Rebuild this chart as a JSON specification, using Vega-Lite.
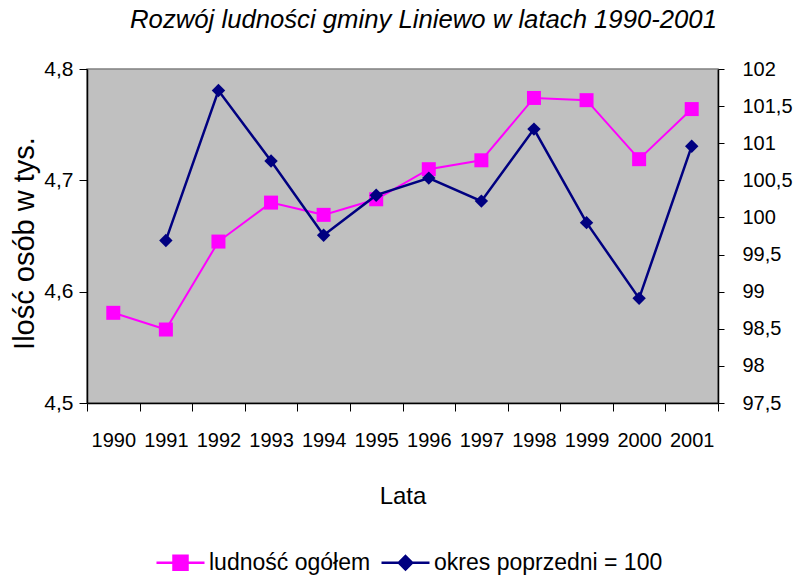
{
  "$schema": "https://vega.github.io/schema/vega-lite/v6.json",
  "width": 631,
  "height": 334,
  "autosize": {"type": "none"},
  "padding": {"left": 87, "top": 69, "right": 78, "bottom": 174},
  "background": "white",
  "config": {
    "font": "Liberation Sans",
    "view": {"fill": "#C0C0C0", "stroke": "#808080", "strokeWidth": 1.5}
  },
  "title": {
    "text": "Rozwój ludności gminy Liniewo w latach 1990-2001",
    "fontSize": 25.7,
    "fontStyle": "italic",
    "fontWeight": "normal",
    "color": "black",
    "anchor": "middle",
    "frame": "group",
    "baseline": "alphabetic",
    "offset": 4,
    "dx": 21
  },
  "data": {
    "values": [
      {"year": "1990", "s": "ludność ogółem", "v": 4.581},
      {"year": "1991", "s": "ludność ogółem", "v": 4.566},
      {"year": "1992", "s": "ludność ogółem", "v": 4.645},
      {"year": "1993", "s": "ludność ogółem", "v": 4.680},
      {"year": "1994", "s": "ludność ogółem", "v": 4.669},
      {"year": "1995", "s": "ludność ogółem", "v": 4.683},
      {"year": "1996", "s": "ludność ogółem", "v": 4.710},
      {"year": "1997", "s": "ludność ogółem", "v": 4.718},
      {"year": "1998", "s": "ludność ogółem", "v": 4.774},
      {"year": "1999", "s": "ludność ogółem", "v": 4.772},
      {"year": "2000", "s": "ludność ogółem", "v": 4.719},
      {"year": "2001", "s": "ludność ogółem", "v": 4.764},
      {"year": "1991", "s": "okres poprzedni = 100", "v": 99.69},
      {"year": "1992", "s": "okres poprzedni = 100", "v": 101.71},
      {"year": "1993", "s": "okres poprzedni = 100", "v": 100.76},
      {"year": "1994", "s": "okres poprzedni = 100", "v": 99.76},
      {"year": "1995", "s": "okres poprzedni = 100", "v": 100.30},
      {"year": "1996", "s": "okres poprzedni = 100", "v": 100.53},
      {"year": "1997", "s": "okres poprzedni = 100", "v": 100.22},
      {"year": "1998", "s": "okres poprzedni = 100", "v": 101.19},
      {"year": "1999", "s": "okres poprzedni = 100", "v": 99.93},
      {"year": "2000", "s": "okres poprzedni = 100", "v": 98.91},
      {"year": "2001", "s": "okres poprzedni = 100", "v": 100.96}
    ]
  },
  "layer": [
    {
      "transform": [{"filter": "datum.s === 'ludność ogółem'"}],
      "encoding": {
        "x": {
          "field": "year", "type": "ordinal",
          "scale": {"type": "band", "paddingInner": 0, "paddingOuter": 0},
          "axis": {
            "title": "Lata", "titleFontSize": 24, "titleFontWeight": "normal", "titleColor": "black",
            "titleBaseline": "alphabetic", "titleY": 100,
            "labelAngle": 0, "labelFontSize": 20, "labelColor": "black", "labelPadding": 19,
            "tickBand": "extent", "tickSize": 8, "tickColor": "black", "domainColor": "black",
            "domainWidth": 1.5, "grid": false
          }
        },
        "y": {
          "field": "v", "type": "quantitative",
          "scale": {"domain": [4.5, 4.8], "zero": false},
          "axis": {
            "title": "Ilość osób w tys.", "titleFontSize": 29, "titleFontWeight": "normal", "titleColor": "black",
            "titleBaseline": "alphabetic", "titleAngle": -90, "titleX": -54, "titleY": 174, "titleAlign": "center",
            "values": [4.5, 4.6, 4.7, 4.8], "format": "~g",
            "labelExpr": "replace(datum.label, '.', ',')",
            "labelFontSize": 21, "labelColor": "black", "labelPadding": 6,
            "tickSize": 8, "tickColor": "black", "domainColor": "black", "domainWidth": 1.5, "grid": false
          }
        }
      },
      "layer": [
        {"mark": {"type": "line", "color": "#FF00FF", "strokeWidth": 2}},
        {"mark": {"type": "point", "shape": "square", "filled": true, "size": 196, "opacity": 1, "color": "#FF00FF"}}
      ]
    },
    {
      "transform": [{"filter": "datum.s === 'okres poprzedni = 100'"}],
      "encoding": {
        "x": {"field": "year", "type": "ordinal"},
        "y": {
          "field": "v", "type": "quantitative",
          "scale": {"domain": [97.5, 102], "zero": false},
          "axis": {
            "orient": "right", "title": null,
            "values": [97.5, 98, 98.5, 99, 99.5, 100, 100.5, 101, 101.5, 102], "format": "~g",
            "labelExpr": "replace(datum.label, '.', ',')",
            "labelFontSize": 20, "labelColor": "black", "labelPadding": 18,
            "tickSize": 6, "tickColor": "black", "domainColor": "black", "domainWidth": 1.5, "grid": false
          }
        }
      },
      "layer": [
        {"mark": {"type": "line", "color": "#000080", "strokeWidth": 2.5}},
        {"mark": {"type": "point", "shape": "diamond", "filled": true, "size": 180, "opacity": 1, "color": "#000080"}}
      ]
    },
    {
      "data": {"values": [{"s": "ludność ogółem"}, {"s": "okres poprzedni = 100"}]},
      "mark": {"type": "point", "filled": true, "opacity": 1, "strokeWidth": 2.5, "clip": true},
      "encoding": {
        "x": {"value": -1000},
        "y": {"value": -1000},
        "color": {
          "field": "s", "type": "nominal",
          "scale": {"domain": ["ludność ogółem", "okres poprzedni = 100"], "range": ["#FF00FF", "#000080"]},
          "legend": {
            "title": null, "orient": "none", "direction": "horizontal", "legendX": 82, "legendY": 482,
            "padding": 0, "symbolSize": 196, "symbolStrokeWidth": 2.5, "labelOffset": 17,
            "labelFontSize": 23, "labelColor": "black", "labelLimit": 400, "columnPadding": 5
          }
        },
        "shape": {
          "field": "s", "type": "nominal",
          "scale": {"domain": ["ludność ogółem", "okres poprzedni = 100"], "range": ["M-3.43,0H3.43M-1,-1H1V1H-1Z", "M-3.43,0H3.43M0,-0.95L0.95,0L0,0.95L-0.95,0Z"]},
          "legend": {
            "title": null, "orient": "none", "direction": "horizontal", "legendX": 82, "legendY": 482,
            "padding": 0, "symbolSize": 196, "symbolStrokeWidth": 2.5, "labelOffset": 17,
            "labelFontSize": 23, "labelColor": "black", "labelLimit": 400, "columnPadding": 5
          }
        },
        "stroke": {
          "field": "s", "type": "nominal",
          "scale": {"domain": ["ludność ogółem", "okres poprzedni = 100"], "range": ["#FF00FF", "#000080"]},
          "legend": {
            "title": null, "orient": "none", "direction": "horizontal", "legendX": 82, "legendY": 482,
            "padding": 0, "symbolSize": 196, "symbolStrokeWidth": 2.5, "labelOffset": 17,
            "labelFontSize": 23, "labelColor": "black", "labelLimit": 400, "columnPadding": 5
          }
        }
      }
    }
  ],
  "resolve": {"scale": {"y": "independent"}}
}
